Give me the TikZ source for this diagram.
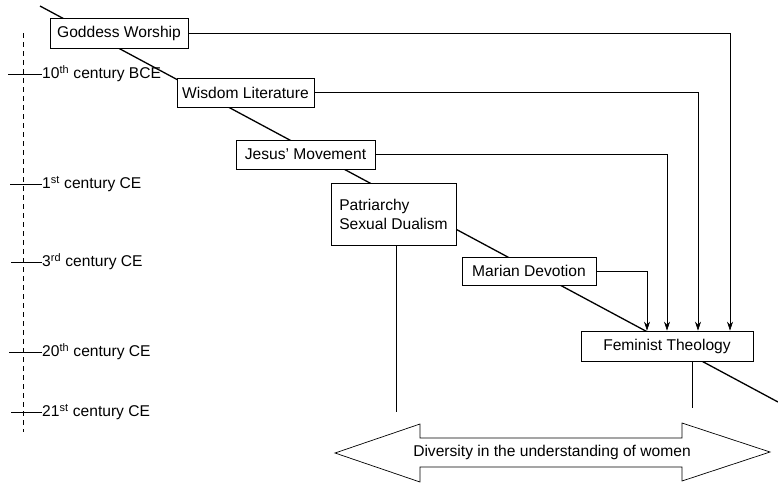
\documentclass[tikz,border=0pt]{standalone}
\usepackage{fontspec}
\setmainfont{Liberation Sans}
\usetikzlibrary{arrows.meta}
\begin{document}
\begin{tikzpicture}[x=1pt,y=-1pt,
  every node/.style={font=\fontsize{15.6}{19}\selectfont},
  box/.style={draw, line width=0.7pt, fill=white, inner sep=0pt, align=center},
  feed/.style={line width=0.6pt, -{Stealth[length=9pt,width=6pt]}},
  axlabel/.style={anchor=west, inner xsep=0pt, inner ysep=1pt},
  tick/.style={line width=0.6pt},
  timeline/.style={line width=1.3pt}
]
\useasboundingbox (0,0) rectangle (778,485);

% main diagonal timeline
\coordinate (ds) at (40,6);
\coordinate (de) at (778,402);
\draw[timeline] (ds) -- (de);

% left axis
\coordinate (at) at (23,33);
\coordinate (ab) at (23,432);
\draw[line width=0.6pt, dash pattern=on 5pt off 4pt] (at) -- (ab);

\node[axlabel] (l1) at (42,74) {10\textsuperscript{th} century BCE};
\node[axlabel] (l2) at (42,184) {1\textsuperscript{st} century CE};
\node[axlabel] (l3) at (42,262) {3\textsuperscript{rd} century CE};
\node[axlabel] (l4) at (42,352) {20\textsuperscript{th} century CE};
\node[axlabel] (l5) at (42,412) {21\textsuperscript{st} century CE};
\coordinate (k1) at (8,74);
\coordinate (k2) at (10,184);
\coordinate (k3) at (11,262);
\coordinate (k4) at (9,352);
\coordinate (k5) at (11,412);
\draw[tick] (k1) -- (l1.west);
\draw[tick] (k2) -- (l2.west);
\draw[tick] (k3) -- (l3.west);
\draw[tick] (k4) -- (l4.west);
\draw[tick] (k5) -- (l5.west);

% boxes
\node[box, minimum width=138pt, minimum height=30pt] (gw) at (119,33) {Goddess Worship};
\node[box, minimum width=137pt, minimum height=29pt] (wl) at (245.5,92.5) {Wisdom Literature};
\node[box, minimum width=139pt, minimum height=29pt] (jm) at (305.5,154.5) {Jesus' Movement};
\node[box, minimum width=125pt, minimum height=62pt, align=left] (ps) at (393.5,214) {Patriarchy\\Sexual Dualism};
\node[box, minimum width=134pt, minimum height=28pt] (md) at (529,271) {Marian Devotion};
\node[box, minimum width=172pt, minimum height=30pt] (ft) at (667,346) {Feminist Theology};

% feeds into Feminist Theology
\draw[feed] (gw.east) -| ([xshift=63pt]ft.north);
\draw[feed] (wl.east) -| ([xshift=31pt]ft.north);
\draw[feed] (jm.east) -| (ft.north);
\draw[feed] (md.east) -| ([xshift=-20pt]ft.north);

% verticals down to the diversity arrow
\coordinate (pd) at (396,412);
\coordinate (fd) at (692,408);
\draw[line width=0.7pt] ([xshift=2.5pt]ps.south) -- (pd);
\draw[line width=0.7pt] ([xshift=25pt]ft.south) -- (fd);

% double arrow
\draw[line width=0.7pt, fill=white]
  (335,453) -- (420,424) -- (420,438) -- (682,438) -- (682,423) -- (770,452)
  -- (682,481) -- (682,467) -- (420,467) -- (420,482) -- cycle;
\node (dv) at (552,452) {Diversity in the understanding of women};
\end{tikzpicture}
\end{document}
